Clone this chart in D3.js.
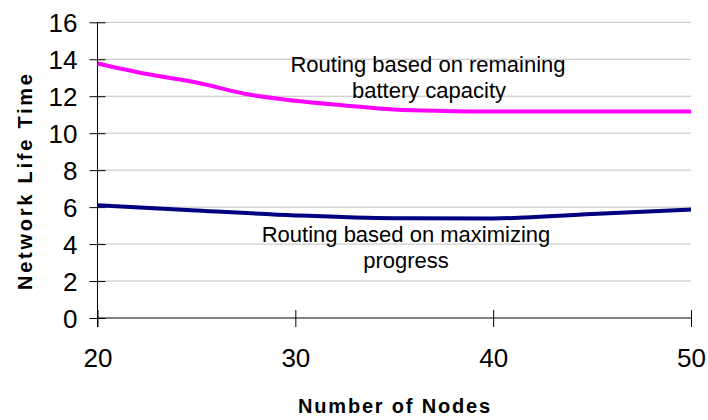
<!DOCTYPE html>
<html>
<head>
<meta charset="utf-8">
<script src="https://cdn.jsdelivr.net/npm/d3@7"></script>
<style>
  body { margin: 0; background: #fff; }
  text { font-family: "Liberation Sans", Arial, sans-serif; fill: #000; }
</style>
</head>
<body>
<script>
// data
var nodes = [20, 22.5, 25, 27.5, 30, 32.5, 35, 37.5, 40, 45, 50];
var batteryLife = [13.77, 13.2, 12.74, 12.12, 11.75, 11.5, 11.28, 11.2, 11.17, 11.17, 11.17];
var progressNodes = [20, 25, 30, 35, 40, 45, 50];
var progressLife = [6.1, 5.82, 5.55, 5.4, 5.39, 5.63, 5.87];
var xTicks = [20, 30, 40, 50];
var yTicks = [0, 2, 4, 6, 8, 10, 12, 14, 16];

var width = 708, height = 420;

var svg = d3.select("body").append("svg")
    .attr("width", width)
    .attr("height", height);

var x = d3.scaleLinear().domain([20, 50]).range([97.5, 691]);
var y = d3.scaleLinear().domain([0, 16]).range([318, 22.3]);

// gridlines
svg.append("g").selectAll("line")
    .data(yTicks.filter(function(d) { return d > 0; }))
    .enter().append("line")
    .attr("x1", x(20)).attr("x2", x(50))
    .attr("y1", function(d) { return y(d); })
    .attr("y2", function(d) { return y(d); })
    .attr("stroke", "#c0c0c0")
    .attr("stroke-width", 1);

// y axis
var yAxis = svg.append("g")
    .attr("transform", "translate(" + x(20) + ",0)")
    .call(d3.axisLeft(y).tickValues(yTicks).tickSize(8).tickPadding(12));
yAxis.selectAll(".tick line").attr("x2", 8).attr("x1", -8);
yAxis.select(".domain").attr("d", "M0," + (y(16)) + "V" + (y(0) + 9));
yAxis.selectAll("text").style("font-size", "26px").attr("x", -20).attr("dy", "0.36em");

// x axis
var xAxis = svg.append("g")
    .attr("transform", "translate(0," + y(0) + ")")
    .call(d3.axisBottom(x).tickValues(xTicks).tickSize(8).tickPadding(20));
xAxis.selectAll(".tick line").attr("y1", -8).attr("y2", 9);
xAxis.select(".domain").attr("d", "M" + x(20) + ",0H" + x(50));
xAxis.selectAll("text").style("font-size", "26px").attr("y", 31).attr("dy", "0.71em");
svg.selectAll(".domain, .tick line").attr("stroke", "#000");

// lines
var line1 = d3.line()
    .x(function(d, i) { return x(nodes[i]); })
    .y(function(d) { return y(d); })
    .curve(d3.curveMonotoneX);
svg.append("path")
    .attr("d", line1(batteryLife))
    .attr("fill", "none")
    .attr("stroke", "#ff00ff")
    .attr("stroke-width", 4);

var line2 = d3.line()
    .x(function(d, i) { return x(progressNodes[i]); })
    .y(function(d) { return y(d); })
    .curve(d3.curveMonotoneX);
svg.append("path")
    .attr("d", line2(progressLife))
    .attr("fill", "none")
    .attr("stroke", "#000080")
    .attr("stroke-width", 4);

// series labels
var lab1 = svg.append("text").attr("text-anchor", "middle").style("font-size", "22px");
lab1.append("tspan").attr("x", 428).attr("y", 72).text("Routing based on remaining");
lab1.append("tspan").attr("x", 429).attr("y", 98).text("battery capacity");

var lab2 = svg.append("text").attr("text-anchor", "middle").style("font-size", "22px");
lab2.append("tspan").attr("x", 406).attr("y", 242).text("Routing based on maximizing");
lab2.append("tspan").attr("x", 406).attr("y", 268).text("progress");

// axis titles
svg.append("text")
    .attr("x", 298).attr("y", 413)
    .attr("textLength", 192).attr("lengthAdjust", "spacing")
    .style("font-size", "20px").style("font-weight", "bold")
    .text("Number of Nodes");

svg.append("text")
    .attr("transform", "translate(32,290) rotate(-90)")
    .attr("textLength", 216).attr("lengthAdjust", "spacing")
    .style("font-size", "20px").style("font-weight", "bold")
    .text("Network Life Time");
</script>
</body>
</html>
